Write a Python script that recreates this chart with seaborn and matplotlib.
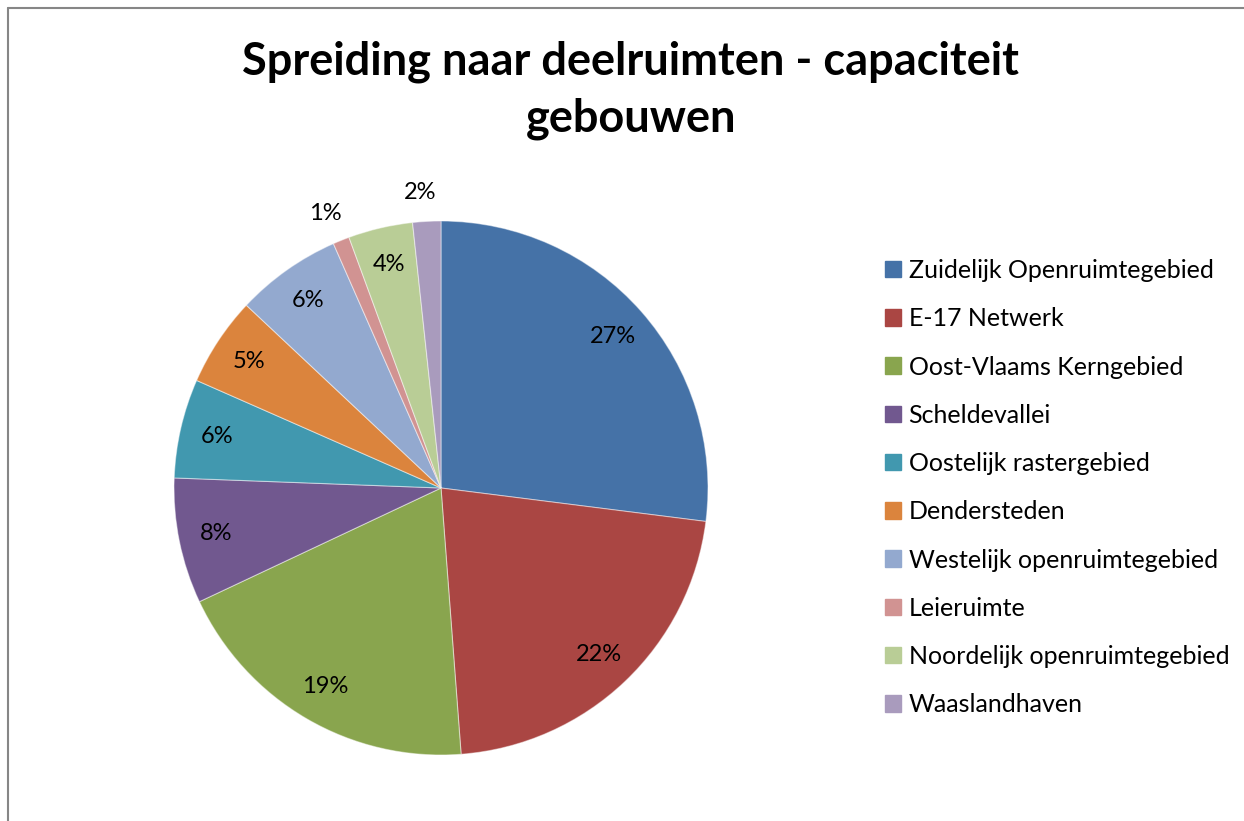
import matplotlib
matplotlib.use("Agg")
import matplotlib.pyplot as plt
from matplotlib.lines import Line2D
import numpy as np
import seaborn as sns

sns.set_theme(style="white")
plt.rcParams['font.family'] = ['Lato', 'DejaVu Sans']
plt.rcParams['text.color'] = 'black'

# data
regions = [
    "Zuidelijk Openruimtegebied",
    "E-17 Netwerk",
    "Oost-Vlaams Kerngebied",
    "Scheldevallei",
    "Oostelijk rastergebied",
    "Dendersteden",
    "Westelijk openruimtegebied",
    "Leieruimte",
    "Noordelijk openruimtegebied",
    "Waaslandhaven",
]
shares = [27.0, 21.8, 19.2, 7.6, 6.0, 5.4, 6.4, 1.0, 3.9, 1.7]
colors = ["#4572A7", "#AA4643", "#89A54E", "#71588F", "#4198AF",
          "#DB843D", "#93A9CF", "#D19392", "#B9CD96", "#A99BBD"]
palette = sns.color_palette(colors)

W, H = 1244, 821
fig = plt.figure(figsize=(W / 100, H / 100), dpi=100)

# pie axes: centre (441, 488), radius 267 px
cx, cy, r = 441, 488, 267
ax = fig.add_axes([(cx - r) / W, (H - cy - r) / H, 2 * r / W, 2 * r / H])
wedges, texts, autotexts = ax.pie(
    shares, colors=palette, startangle=90, counterclock=False,
    autopct='%.0f%%', pctdistance=0.86,
    wedgeprops=dict(edgecolor=(1, 1, 1, 0.45), linewidth=0.8),
    textprops=dict(fontsize=17, color="black"))
ax.set_xlim(-1, 1)
ax.set_ylim(-1, 1)
ax.set_aspect('equal')
ax.axis('off')

# small slices get their label outside the pie
for w, t, v in zip(wedges, autotexts, shares):
    if v < 2.5:
        mid = np.deg2rad((w.theta1 + w.theta2) / 2)
        t.set_position((1.11 * np.cos(mid) - 0.02, 1.11 * np.sin(mid)))

# title
fig.text(631 / W, 1 - 62 / H, "Spreiding naar deelruimten - capaciteit",
         ha='center', va='center', fontsize=32.5, fontweight='bold')
fig.text(631 / W, 1 - 119 / H, "gebouwen",
         ha='center', va='center', fontsize=32.5, fontweight='bold')

# legend
handles = [plt.Rectangle((0, 0), 1, 1, color=c) for c in palette]
fig.legend(handles, regions, loc='upper left',
           bbox_to_anchor=(885 / W, 1 - 259 / H), frameon=False,
           fontsize=18, handlelength=0.64, handleheight=0.64,
           handletextpad=0.3, labelspacing=1.01, borderpad=0,
           borderaxespad=0)

# chart area border (top and left visible)
fig.add_artist(Line2D([8 / W, 1], [1 - 8 / H, 1 - 8 / H],
                      transform=fig.transFigure, color="#868686", lw=1.5))
fig.add_artist(Line2D([8 / W, 8 / W], [0, 1 - 8 / H],
                      transform=fig.transFigure, color="#868686", lw=1.5))

fig.savefig("out.png", dpi=100)
